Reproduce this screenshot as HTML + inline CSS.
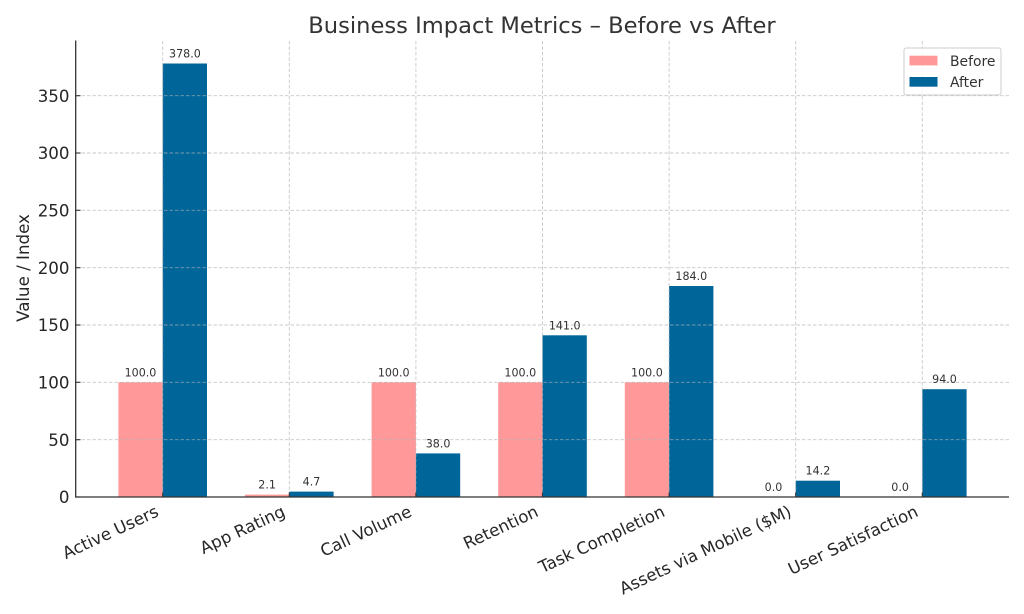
<!DOCTYPE html>
<html>
<head>
<meta charset="utf-8">
<style>
  html, body { margin: 0; padding: 0; background: #ffffff; }
  svg { display: block; }
  text { font-family: "DejaVu Sans", "Liberation Sans", sans-serif; }
</style>
</head>
<body>
<svg width="1024" height="614" viewBox="0 0 1024 614" xmlns="http://www.w3.org/2000/svg">
  <rect x="0" y="0" width="1024" height="614" fill="#ffffff"/>

  <!-- Title -->
  <text x="542" y="33" font-size="22.6" fill="#333333" text-anchor="middle">Business Impact Metrics – Before vs After</text>

  <!-- Bars: Before -->
  <g fill="#ff9999">
    <rect x="118.4" y="382.3" width="44.3" height="114.7"/>
    <rect x="245.0" y="494.6" width="44.3" height="2.4"/>
    <rect x="371.6" y="382.3" width="44.3" height="114.7"/>
    <rect x="498.2" y="382.3" width="44.3" height="114.7"/>
    <rect x="624.8" y="382.3" width="44.3" height="114.7"/>
  </g>
  <!-- Bars: After -->
  <g fill="#006699">
    <rect x="162.7" y="63.5" width="44.3" height="433.5"/>
    <rect x="289.3" y="491.6" width="44.3" height="5.4"/>
    <rect x="415.9" y="453.4" width="44.3" height="43.6"/>
    <rect x="542.5" y="335.3" width="44.3" height="161.7"/>
    <rect x="669.1" y="286.0" width="44.3" height="211.0"/>
    <rect x="795.7" y="480.7" width="44.3" height="16.3"/>
    <rect x="922.3" y="389.2" width="44.3" height="107.8"/>
  </g>

  <!-- Grid (on top, translucent) -->
  <g stroke="#b0b0b0" stroke-opacity="0.7" stroke-width="0.9" stroke-dasharray="3.5 2" fill="none">
    <line x1="76" y1="439.7" x2="1009" y2="439.7"/>
    <line x1="76" y1="382.3" x2="1009" y2="382.3"/>
    <line x1="76" y1="325.0" x2="1009" y2="325.0"/>
    <line x1="76" y1="267.7" x2="1009" y2="267.7"/>
    <line x1="76" y1="210.3" x2="1009" y2="210.3"/>
    <line x1="76" y1="153.0" x2="1009" y2="153.0"/>
    <line x1="76" y1="95.7" x2="1009" y2="95.7"/>
    <line x1="162.7" y1="41" x2="162.7" y2="497"/>
    <line x1="289.3" y1="41" x2="289.3" y2="497"/>
    <line x1="415.9" y1="41" x2="415.9" y2="497"/>
    <line x1="542.5" y1="41" x2="542.5" y2="497"/>
    <line x1="669.1" y1="41" x2="669.1" y2="497"/>
    <line x1="795.7" y1="41" x2="795.7" y2="497"/>
    <line x1="922.3" y1="41" x2="922.3" y2="497"/>
  </g>

  <!-- Ticks (inward) -->
  <g stroke="#333333" stroke-width="1.1">
    <line x1="76" y1="497" x2="80.5" y2="497"/>
    <line x1="76" y1="439.7" x2="80.5" y2="439.7"/>
    <line x1="76" y1="382.3" x2="80.5" y2="382.3"/>
    <line x1="76" y1="325.0" x2="80.5" y2="325.0"/>
    <line x1="76" y1="267.7" x2="80.5" y2="267.7"/>
    <line x1="76" y1="210.3" x2="80.5" y2="210.3"/>
    <line x1="76" y1="153.0" x2="80.5" y2="153.0"/>
    <line x1="76" y1="95.7" x2="80.5" y2="95.7"/>
    <line x1="162.7" y1="497" x2="162.7" y2="492.5"/>
    <line x1="289.3" y1="497" x2="289.3" y2="492.5"/>
    <line x1="415.9" y1="497" x2="415.9" y2="492.5"/>
    <line x1="542.5" y1="497" x2="542.5" y2="492.5"/>
    <line x1="669.1" y1="497" x2="669.1" y2="492.5"/>
    <line x1="795.7" y1="497" x2="795.7" y2="492.5"/>
    <line x1="922.3" y1="497" x2="922.3" y2="492.5"/>
  </g>

  <!-- Spines -->
  <g stroke="#333333" stroke-width="1.3" fill="none">
    <line x1="75.7" y1="40.5" x2="75.7" y2="497"/>
    <line x1="75" y1="497" x2="1009" y2="497"/>
  </g>

  <!-- Y tick labels -->
  <g font-size="16.67" fill="#262626" text-anchor="end">
    <text x="69.5" y="503.1">0</text>
    <text x="69.5" y="445.8">50</text>
    <text x="69.5" y="388.4">100</text>
    <text x="69.5" y="331.1">150</text>
    <text x="69.5" y="273.8">200</text>
    <text x="69.5" y="216.4">250</text>
    <text x="69.5" y="159.1">300</text>
    <text x="69.5" y="101.8">350</text>
  </g>

  <!-- Y axis label -->
  <text transform="translate(29,268) rotate(-90)" font-size="16.67" fill="#262626" text-anchor="middle">Value / Index</text>

  <!-- X tick labels -->
  <g font-size="16.67" fill="#262626" text-anchor="end">
    <text transform="translate(159.7,515.5) rotate(-25)">Active Users</text>
    <text transform="translate(286.3,515.5) rotate(-25)">App Rating</text>
    <text transform="translate(412.9,515.5) rotate(-25)">Call Volume</text>
    <text transform="translate(539.5,515.5) rotate(-25)">Retention</text>
    <text transform="translate(666.1,515.5) rotate(-25)">Task Completion</text>
    <text transform="translate(792.7,515.5) rotate(-25)">Assets via Mobile ($M)</text>
    <text transform="translate(919.3,515.5) rotate(-25)">User Satisfaction</text>
  </g>

  <!-- Value labels -->
  <g font-size="11.1" fill="#333333" text-anchor="middle">
    <text x="140.5" y="376.3">100.0</text>
    <text x="184.9" y="57.5">378.0</text>
    <text x="267.1" y="488.6">2.1</text>
    <text x="311.5" y="485.6">4.7</text>
    <text x="393.7" y="376.3">100.0</text>
    <text x="438.1" y="447.4">38.0</text>
    <text x="520.3" y="376.3">100.0</text>
    <text x="564.7" y="329.3">141.0</text>
    <text x="646.9" y="376.3">100.0</text>
    <text x="691.3" y="280.0">184.0</text>
    <text x="773.5" y="491">0.0</text>
    <text x="817.9" y="474.7">14.2</text>
    <text x="900.1" y="491">0.0</text>
    <text x="944.5" y="383.2">94.0</text>
  </g>

  <!-- Legend -->
  <rect x="904" y="48" width="97" height="47" rx="2.5" ry="2.5" fill="#ffffff" fill-opacity="0.8" stroke="#cccccc" stroke-width="1"/>
  <rect x="909.5" y="55.7" width="28" height="9.7" fill="#ff9999"/>
  <rect x="909.5" y="77" width="28" height="9.7" fill="#006699"/>
  <text x="950" y="65.8" font-size="13.9" fill="#333333">Before</text>
  <text x="950" y="87.2" font-size="13.9" fill="#333333">After</text>
</svg>
</body>
</html>
